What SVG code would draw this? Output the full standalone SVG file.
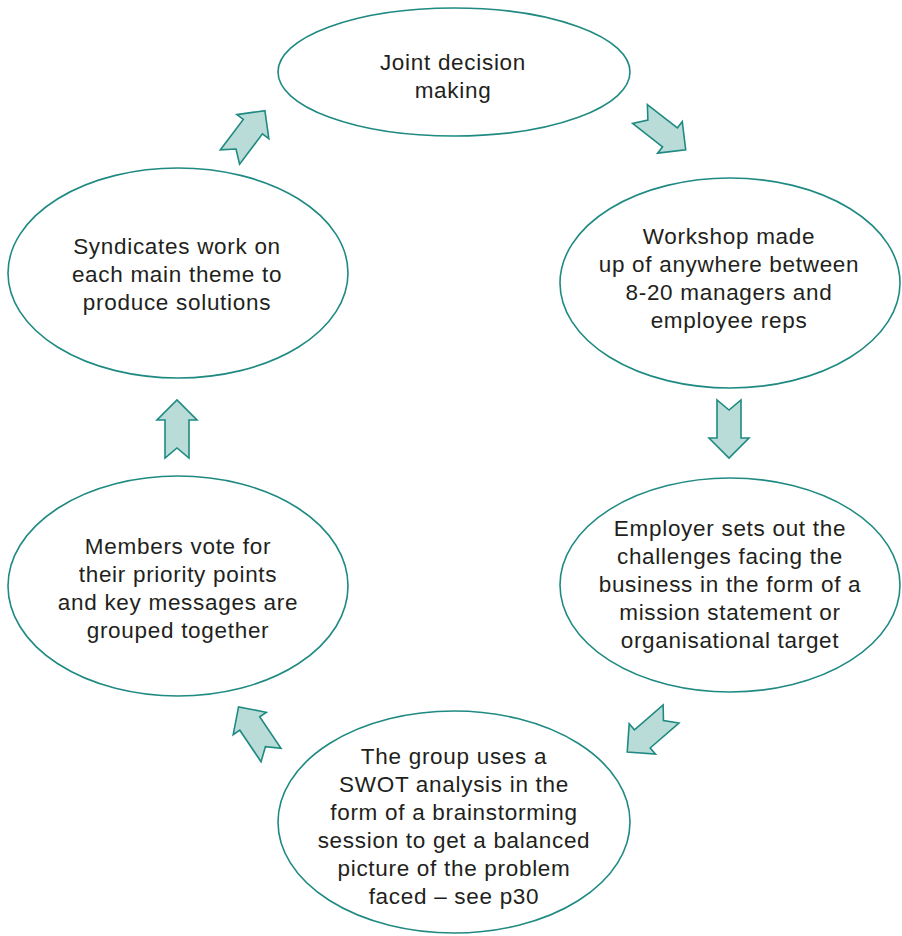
<svg xmlns="http://www.w3.org/2000/svg" width="902" height="936" viewBox="0 0 902 936">
<defs>
<style>
.node ellipse{fill:#ffffff;stroke:#1f8a82;stroke-width:1.6}
.node text{font-family:"Liberation Sans",Arial,Helvetica,sans-serif;font-size:22.5px;letter-spacing:0.7px;fill:#231f20;text-anchor:middle}
.arrow{fill:#b9dcd8;stroke:#1f8a82;stroke-width:1.6;stroke-linejoin:miter}
</style>
<polygon id="arr" points="0,-12 38,-12 38,-20 58,0 38,20 38,12 0,12 10,0"/>
</defs>
<rect width="902" height="936" fill="#ffffff"/>
<g id="n1" class="node">
<ellipse cx="454" cy="72" rx="176" ry="64"/>
<text x="453" y="70">Joint decision</text>
<text x="453" y="98">making</text>
</g>
<g id="n2" class="node">
<ellipse cx="730" cy="283" rx="170" ry="105"/>
<text x="729" y="244">Workshop made</text>
<text x="729" y="272">up of anywhere between</text>
<text x="729" y="300">8-20 managers and</text>
<text x="729" y="328">employee reps</text>
</g>
<g id="n3" class="node">
<ellipse cx="730" cy="585" rx="170" ry="107"/>
<text x="730" y="536">Employer sets out the</text>
<text x="730" y="564">challenges facing the</text>
<text x="730" y="592">business in the form of a</text>
<text x="730" y="620">mission statement or</text>
<text x="730" y="648">organisational target</text>
</g>
<g id="n4" class="node">
<ellipse cx="454" cy="822" rx="176" ry="111"/>
<text x="454" y="764">The group uses a</text>
<text x="454" y="792">SWOT analysis in the</text>
<text x="454" y="820">form of a brainstorming</text>
<text x="454" y="848">session to get a balanced</text>
<text x="454" y="876">picture of the problem</text>
<text x="454" y="904">faced – see p30</text>
</g>
<g id="n5" class="node">
<ellipse cx="178" cy="586" rx="170" ry="110"/>
<text x="178" y="554">Members vote for</text>
<text x="178" y="582">their priority points</text>
<text x="178" y="610">and key messages are</text>
<text x="178" y="638">grouped together</text>
</g>
<g id="n6" class="node">
<ellipse cx="178" cy="273" rx="170" ry="105"/>
<text x="177" y="254">Syndicates work on</text>
<text x="177" y="282">each main theme to</text>
<text x="177" y="310">produce solutions</text>
</g>
<g id="connectors">
<use href="#arr" class="arrow" transform="translate(640,114) rotate(38)"/>
<use href="#arr" class="arrow" transform="translate(729,400) rotate(90)"/>
<use href="#arr" class="arrow" transform="translate(671,714) rotate(139)"/>
<use href="#arr" class="arrow" transform="translate(271,755) rotate(-124)"/>
<use href="#arr" class="arrow" transform="translate(177,458) rotate(-90)"/>
<use href="#arr" class="arrow" transform="translate(230,157) rotate(-53)"/>
</g>
</svg>
